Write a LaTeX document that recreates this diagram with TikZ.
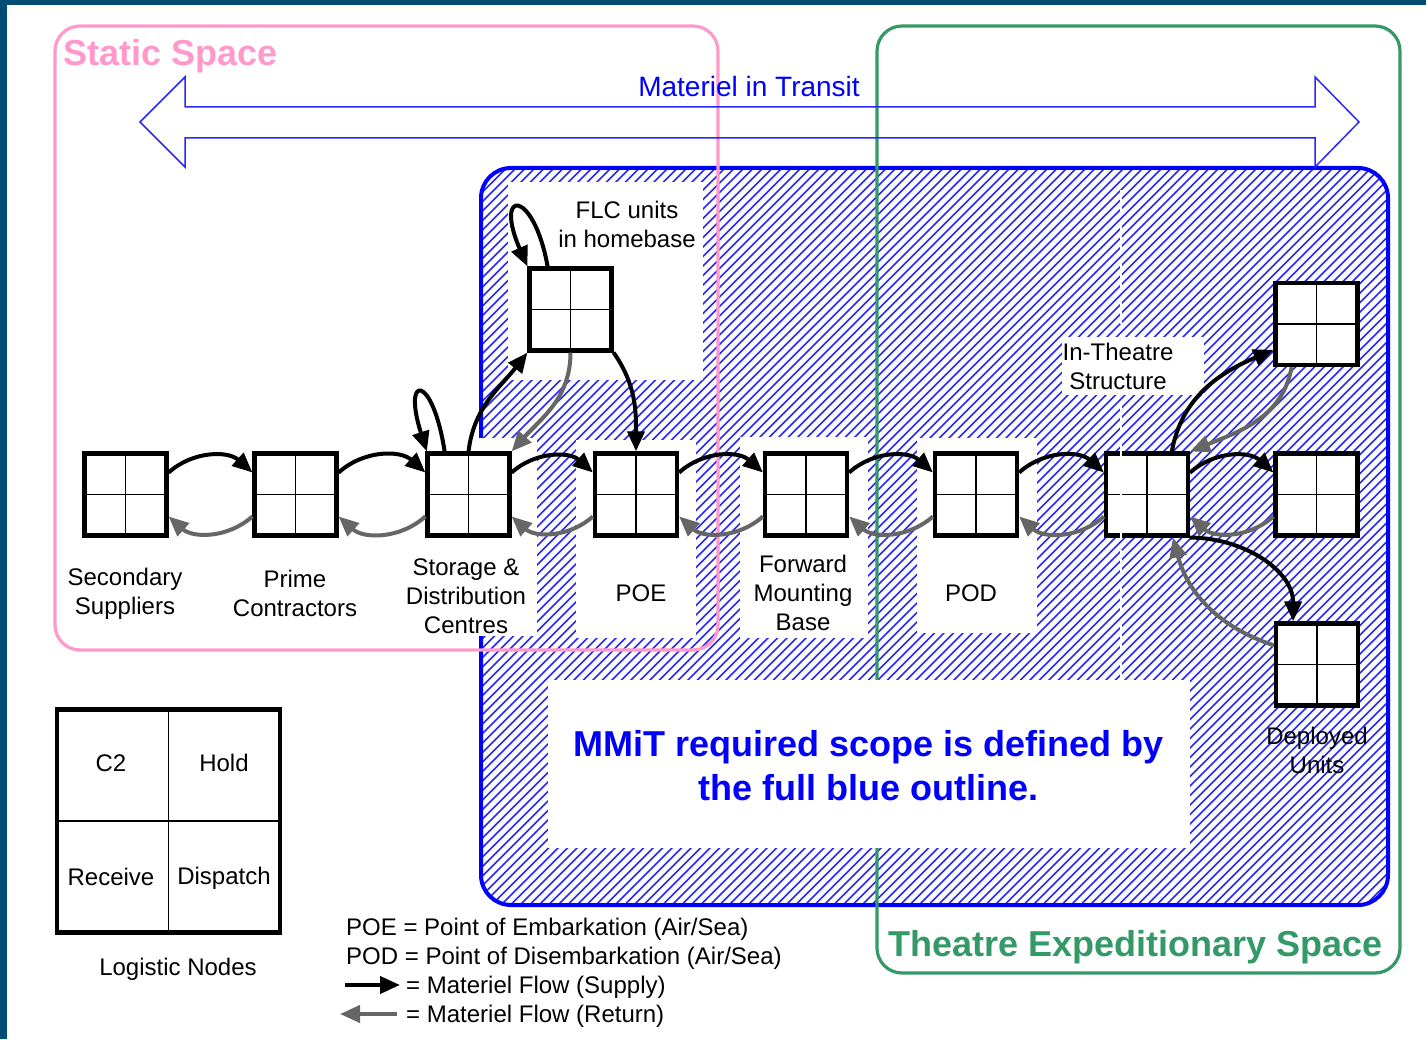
\documentclass[tikz,border=0pt]{standalone}
\usepackage{fontspec}
\setmainfont{Liberation Sans}
\usetikzlibrary{arrows.meta}
\definecolor{darkframe}{RGB}{0,76,115}
\definecolor{pinkline}{RGB}{255,153,204}
\definecolor{greenline}{RGB}{51,153,102}
\definecolor{retgray}{RGB}{102,102,102}
\definecolor{pureblue}{RGB}{0,0,255}
\definecolor{hatchblue}{RGB}{40,40,245}
\definecolor{arrowblue}{RGB}{40,40,250}
\begin{document}
\begin{tikzpicture}[x=1pt,y=1pt,
  cell/.style={draw, line width=4.2pt, fill=white, minimum size=82pt, inner sep=0pt,
    path picture={\draw[line width=1.5pt] (path picture bounding box.north) -- (path picture bounding box.south)
      (path picture bounding box.west) -- (path picture bounding box.east);}},
  lbl/.style={align=center, font=\fontsize{24}{29}\selectfont, inner sep=0pt},
  leg/.style={anchor=base west, font=\fontsize{24}{29}\selectfont, inner sep=0pt},
  supply/.style={line width=4pt, black, -{Triangle[length=20pt,width=17pt]}},
  ret/.style={line width=4pt, retgray, -{Triangle[length=20pt,width=17pt]}},
  whitebox/.style={fill=white, draw=none},
  region/.style={line width=3.2pt, rounded corners=25pt},
  hatchline/.style={hatchblue, line width=1.6pt}
]
\useasboundingbox (0,0) rectangle (1426,1039);
\fill[white] (0,0) rectangle (1426,1039);
\fill[darkframe] (0,1034) rectangle (1426,1039);
\fill[darkframe] (0,0) rectangle (7,1039);

% hatched scope area
\begin{scope}
  \clip[rounded corners=30pt] (481,134) rectangle (1388,871);
  \foreach \i in {-740,-730.5,...,910}
    \draw[hatchline] ({481+(\i)},134) -- ++(740,740);
\end{scope}
\draw[pureblue, line width=4pt, rounded corners=30pt] (481,134) rectangle (1388,871);

% white label backgrounds
\fill[whitebox] (508,659) rectangle (703,857);
\fill[whitebox] (400,403) rectangle (537,601);
\fill[whitebox] (576,401) rectangle (696,599);
\fill[whitebox] (740,401) rectangle (868,602);
\fill[whitebox] (917,406) rectangle (1037,601);

% static / theatre spaces
\draw[region, pinkline] (55,389) rectangle (718,1013);
\draw[region, greenline] (877,66) rectangle (1400,1013);
\node[anchor=base west, inner sep=0pt, text=pinkline, font=\fontsize{36}{40}\selectfont\bfseries] (static) at (63,973) {Static Space};
\node[anchor=base west, inner sep=0pt, text=greenline, font=\fontsize{36}{40}\selectfont\bfseries] (theatre) at (888,83) {Theatre Expeditionary Space};

% MMiT box
\fill[whitebox] (548,191) rectangle (1190,359);
\node[align=center, inner sep=0pt, text=pureblue, font=\fontsize{36}{44}\selectfont\bfseries] (mmit) at (868.5,273) {MMiT required scope is defined by\\the full blue outline.};

% materiel in transit double arrow
\draw[arrowblue, line width=1.5pt, line join=miter]
  (140,917) -- (185,962) -- (185,932) -- (1315,932) -- (1315,962) -- (1359,917)
  -- (1315,872) -- (1315,901) -- (185,901) -- (185,872) -- cycle;
\node[anchor=base, inner sep=0pt, text=pureblue, font=\fontsize{28}{32}\selectfont] (transit) at (749,942) {Materiel in Transit};

% logistic nodes
\node[cell] (ss)  at (125.5,544.5) {};
\node[cell] (pc)  at (295.5,544.5) {};
\node[cell] (sdc) at (468.5,544.5) {};
\node[cell] (poe) at (636,544.5) {};
\node[cell] (fmb) at (806,544.5) {};
\node[cell] (pod) at (976,544.5) {};
\node[cell] (its) at (1147,544.5) {};
\node[cell] (rt)  at (1316.5,715) {};
\node[cell] (rm)  at (1316.5,544.5) {};
\node[cell] (du)  at (1317,374.5) {};
\node[cell] (flc) at (570.5,729.5) {};

% labels
\node[lbl] (lss)  at (125,445) {Secondary\\Suppliers};
\node[lbl] (lpc)  at (295,446) {Prime\\Contractors};
\node[lbl] (lsdc) at (466,443) {Storage \&\\Distribution\\Centres};
\node[lbl] (lpoe) at (641,446) {POE};
\node[lbl] (lfmb) at (803,446) {Forward\\Mounting\\Base};
\node[lbl] (lpod) at (971,446) {POD};
\node[lbl] (lflc) at (627,815) {FLC units\\in homebase};
\node[lbl] (ldu)  at (1317,289) {Deployed\\Units};

% white dashed seam
\coordinate (seamtop) at (1121,849);
\coordinate (seambot) at (1121,359);
\draw[white, line width=2.5pt, dash pattern=on 26pt off 10pt] (seamtop) -- (seambot);

% in-theatre label on its own white patch
\fill[whitebox] (1062,644) rectangle (1204,702);
\node[lbl] (lits) at (1118,673) {In-Theatre\\Structure};

% flows along the chain
\foreach \a/\b in {ss/pc, pc/sdc, sdc/poe, poe/fmb, fmb/pod, pod/its, its/rm}{
  \draw[supply] (\a.27) to[bend left=42] (\b.153);
  \draw[ret] (\b.207) to[bend left=42] (\a.333);
}
% self loops
\draw[supply] (sdc.119) .. controls +(-12,78) and +(-25,78) .. (sdc.134);
\draw[supply] (flc.118) .. controls +(-14,78) and +(-34,78) .. (flc.135);
% FLC links
\draw[supply] (sdc.north) to[out=83,in=232] (flc.south west);
\draw[ret] (flc.south) to[out=-90,in=48] (sdc.north east);
\draw[supply] (flc.south east) to[out=-55,in=90] (poe.north);
% in-theatre branches
\draw[supply] (its.60) to[out=80,in=203] (rt.211);
\draw[ret] (rt.240) to[out=-100,in=22] (its.north east);
\draw[supply] (its.south east) to[out=0,in=90] (du.119);
\draw[ret] (du.156) to[out=162,in=-75] (its.301);

% legend: logistic node
\node[cell, minimum size=223pt] (legbox) at (168.5,218) {};
\node[lbl] (c2) at (111,276) {C2};
\node[lbl] (hold) at (224,276) {Hold};
\node[lbl] (recv) at (111,162) {Receive};
\node[lbl] (disp) at (224,161) {Dispatch};
\node[lbl] (legname) at (178,70) {Logistic Nodes};

% legend: abbreviations and flows
\node[leg] (poedef) at (346,103.5) {POE = Point of Embarkation (Air/Sea)};
\node[leg] (poddef) at (346,74.5) {POD = Point of Disembarkation (Air/Sea)};
\node[leg] (supdef) at (406,45.5) {= Materiel Flow (Supply)};
\node[leg] (retdef) at (406,16.5) {= Materiel Flow (Return)};
\coordinate (sa) at (345,54);
\coordinate (sb) at (400,54);
\coordinate (ra) at (397,25);
\coordinate (rb) at (340,25);
\draw[supply] (sa) -- (sb);
\draw[ret] (ra) -- (rb);
\end{tikzpicture}
\end{document}
